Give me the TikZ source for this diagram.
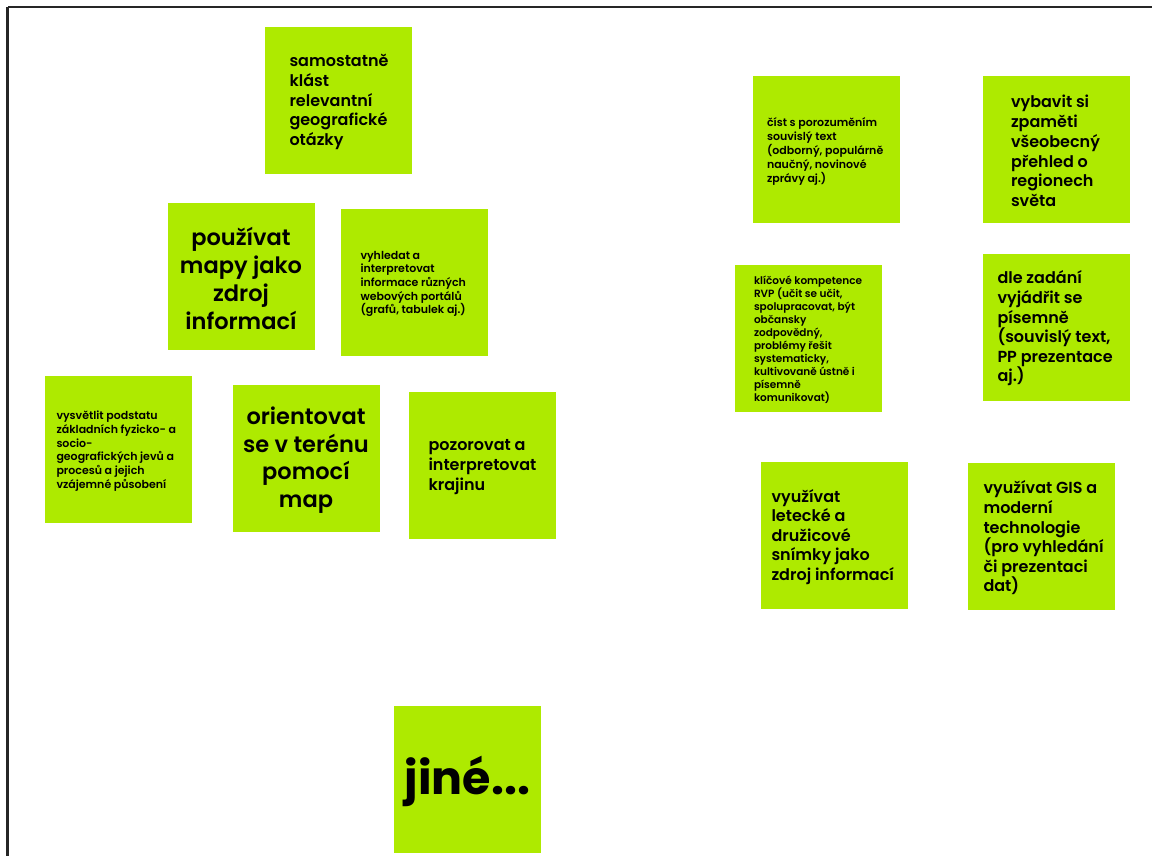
\documentclass[tikz,border=0pt]{standalone}
\usepackage{fontspec}
\setmainfont{Poppins}[BoldFont={Poppins SemiBold}]
\newfontfamily\heavy{Poppins Bold}
\definecolor{lime}{RGB}{174,234,0}
\tikzset{
  card/.style={fill=lime, draw=none, minimum width=147pt, minimum height=147pt, inner sep=0pt},
  txt/.style={inner sep=0pt, align=left, text=black, yshift=-1.5pt},
  ctxt/.style={inner sep=0pt, align=center, text=black, yshift=-1.5pt},
  frameline/.style={draw=black!85, line width=#1},
}
\newcommand{\fs}[2]{\bfseries\fontsize{#1}{#2}\selectfont}
\begin{document}
\begin{tikzpicture}[x=1pt,y=-1pt]
\useasboundingbox (0,0) rectangle (1152,856);
\fill[white] (0,0) rectangle (1152,856);
\coordinate (tl) at (7.5,7);
\coordinate (tr) at (1152,7);
\coordinate (bl) at (7.5,856);
\draw[frameline=1.8pt] (tr) -- (tl);
\draw[frameline=2.4pt] (tl) -- (bl);

% cards
\node[card] (c1) at (338,100.5) {};
\node[txt, anchor=west, font=\fs{16}{19.7}] (t1) at ([xshift=25pt]c1.west) {samostatně\\klást\\relevantní\\geografické\\otázky};

\node[card] (c2) at (241,276.5) {};
\node[ctxt, font=\fs{22.5}{28}] (t2) at (c2.center) {používat\\mapy jako\\zdroj\\informací};

\node[card] (c3) at (414,282.5) {};
\node[txt, anchor=west, font=\fs{11}{13.7}] (t3) at ([xshift=20pt]c3.west) {vyhledat a\\interpretovat\\informace různých\\webových portálů\\(grafů, tabulek aj.)};

\node[card] (c4) at (118,449.5) {};
\node[txt, anchor=west, font=\fs{11}{13.7}] (t4) at ([xshift=12pt]c4.west) {vysvětlit podstatu\\základních fyzicko- a\\socio-\\geografických jevů a\\procesů a jejich\\vzájemné působení};

\node[card] (c5) at (306,458.5) {};
\node[ctxt, font=\fs{22.5}{27.7}] (t5) at (c5.center) {orientovat\\se v terénu\\pomocí\\map};

\node[card] (c6) at (482.5,465.5) {};
\node[txt, anchor=west, font=\fs{16}{19.6}] (t6) at ([xshift=19.5pt]c6.west) {pozorovat a\\interpretovat\\krajinu};

\node[card] (c7) at (826.5,149.5) {};
\node[txt, anchor=west, font=\fs{11}{14}] (t7) at ([xshift=14pt]c7.west) {číst s porozuměním\\souvislý text\\(odborný, populárně\\naučný, novinové\\zprávy aj.)};

\node[card] (c8) at (1056.5,149.5) {};
\node[txt, anchor=west, font=\fs{16}{19.7}] (t8) at ([xshift=28pt]c8.west) {vybavit si\\zpaměti\\všeobecný\\přehled o\\regionech\\světa};

\node[card] (c9) at (808.5,338.5) {};
\node[txt, anchor=west, font=\fs{10.5}{13}] (t9) at ([xshift=19pt]c9.west) {klíčové kompetence\\RVP (učit se učit,\\spolupracovat, být\\občansky\\zodpovědný,\\problémy řešit\\systematicky,\\kultivovaně ústně i\\písemně\\komunikovat)};

\node[card] (c10) at (1056,327) {};
\node[txt, anchor=west, font=\fs{16}{19.6}] (t10) at ([xshift=15pt]c10.west) {dle zadání\\vyjádřit se\\písemně\\(souvislý text,\\PP prezentace\\aj.)};

\node[card] (c11) at (834,535.5) {};
\node[txt, anchor=west, font=\fs{16}{19.6}] (t11) at ([xshift=11pt]c11.west) {využívat\\letecké a\\družicové\\snímky jako\\zdroj informací};

\node[card] (c12) at (1041,536.5) {};
\node[txt, anchor=west, font=\fs{16}{19.6}] (t12) at ([xshift=16pt]c12.west) {využívat GIS a\\moderní\\technologie\\(pro vyhledání\\či prezentaci\\dat)};

\node[card] (c13) at (467.5,779.5) {};
\node[ctxt, font={\heavy\fontsize{46}{50}\selectfont}] (t13) at (c13.center) {jiné...};
\end{tikzpicture}
\end{document}
